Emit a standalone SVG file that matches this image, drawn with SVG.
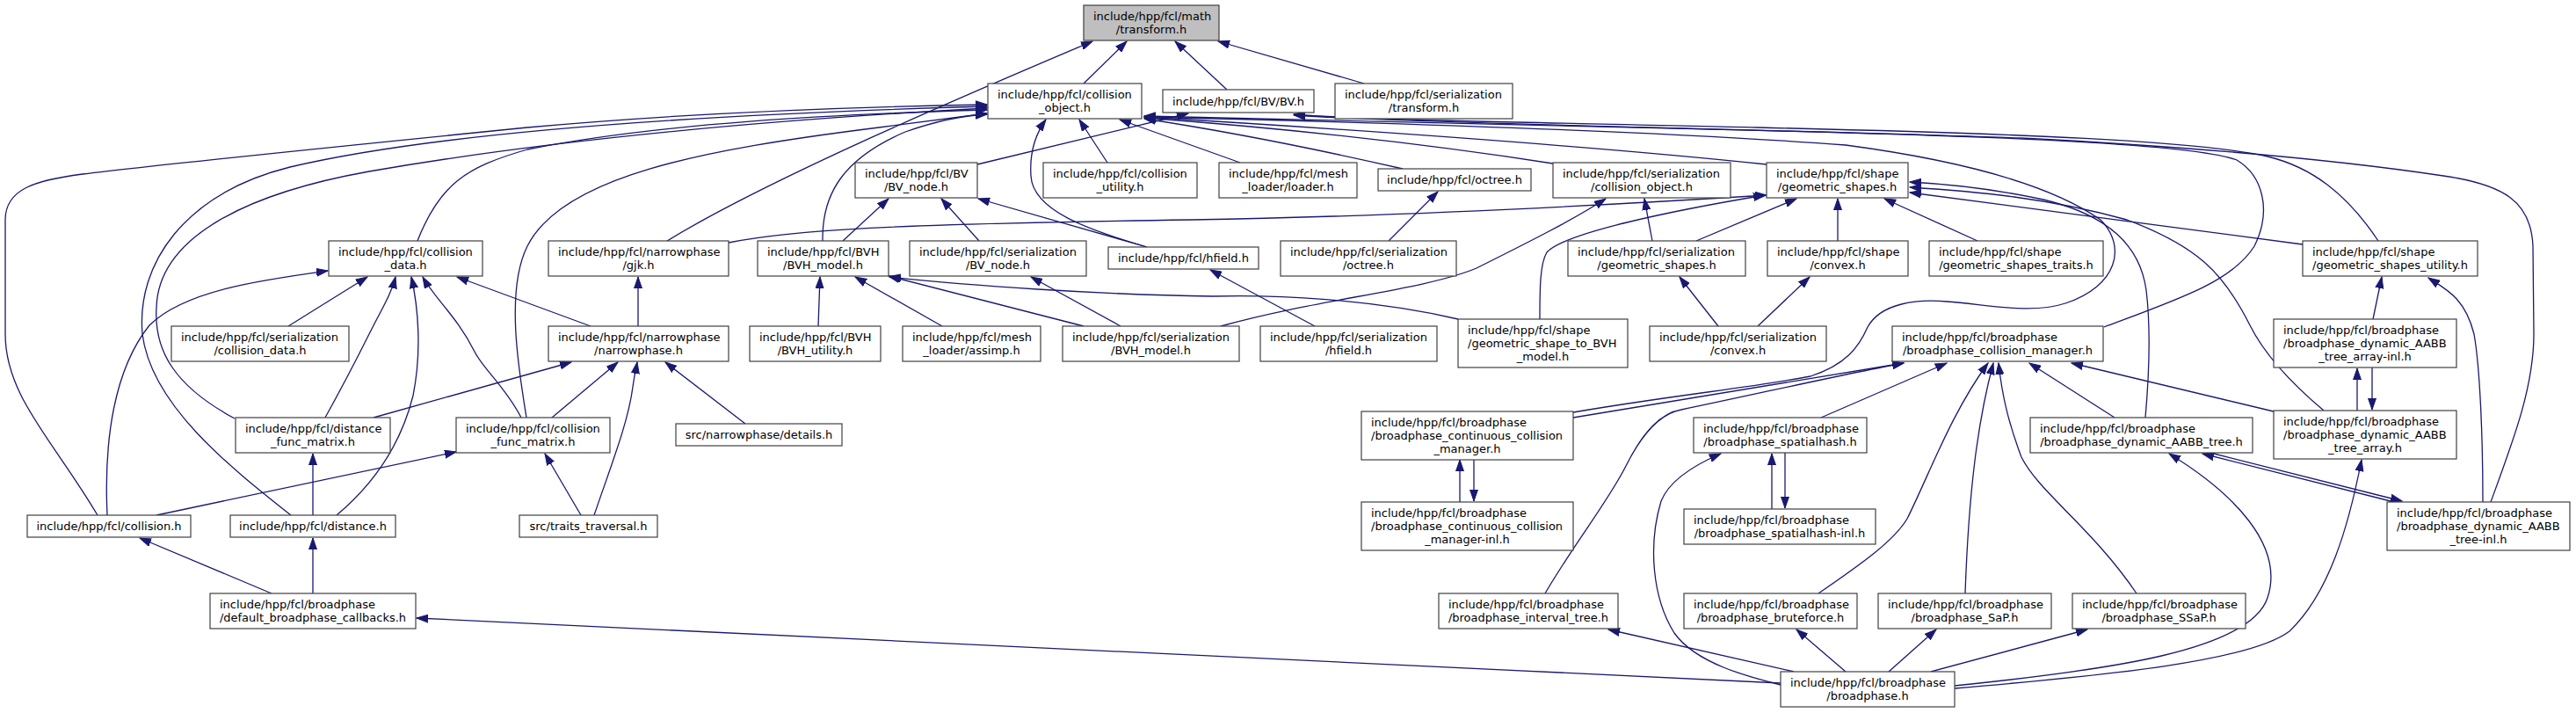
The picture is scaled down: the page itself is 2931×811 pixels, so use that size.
<svg xmlns="http://www.w3.org/2000/svg" width="2931" height="811" viewBox="0 0 2931 811">
<style>
.n rect{fill:#ffffff;stroke:#404040;stroke-width:1.2}
.n.root rect{fill:#bfbfbf}
text{font-family:"DejaVu Sans","Liberation Sans",sans-serif;font-size:13px;fill:#000}
.m{text-anchor:middle}
.e{fill:none;stroke:#191970;stroke-width:1.3;marker-end:url(#ah)}
</style>
<defs>
<marker id="ah" markerUnits="userSpaceOnUse" markerWidth="14" markerHeight="10" refX="13" refY="5" orient="auto">
<path d="M0,0.5 L13,5 L0,9.5 Z" fill="#191970" stroke="#191970" stroke-width="1"/>
</marker>
</defs>
<rect width="2931" height="811" fill="#ffffff"/>
<g id="connectors">
<path class="e" d="M1233,95 L1282,47"/>
<path class="e" d="M1396,102 L1337,47"/>
<path class="e" d="M1552,95 L1386,47"/>
<path class="e" d="M759,274 C880,200 1130,95 1243,47"/>
<path class="e" d="M111,586 C60,500 6,450 6,380 L6,250 C6,215 40,205 94,198 C200,185 400,165 600,145 C800,127 1000,121 1123,119"/>
<path class="e" d="M122,586 C118,500 130,420 170,370 C210,330 300,318 373,308"/>
<path class="e" d="M178,586 L519,514"/>
<path class="e" d="M331,586 C260,530 172,460 162,380 C155,300 210,220 330,190 C500,150 800,130 1123,121"/>
<path class="e" d="M267,476 C200,440 175,400 178,350 C180,270 280,220 420,195 C650,155 900,135 1123,123"/>
<path class="e" d="M475,274 C500,210 530,190 600,170 C750,140 950,130 1123,125"/>
<path class="e" d="M599,475 C590,420 575,330 600,280 C640,200 800,170 1000,145 C1060,137 1100,132 1123,129"/>
<path class="e" d="M936,274 C935,220 960,180 1030,150 C1070,136 1100,131 1123,130"/>
<path class="e" d="M829,276 C900,262 1000,255 1355,250 C1600,246 1850,232 2010,222"/>
<path class="e" d="M959,274 L1011,226"/>
<path class="e" d="M1114,274 L1071,226"/>
<path class="e" d="M1305,281 L1113,226"/>
<path class="e" d="M1305,281 C1240,262 1175,240 1173,200 C1171,170 1180,150 1190,136"/>
<path class="e" d="M1260,185 L1228,136"/>
<path class="e" d="M1411,185 L1274,136"/>
<path class="e" d="M1596,192 C1500,170 1400,150 1302,135"/>
<path class="e" d="M1767,186 C1600,160 1450,145 1302,134"/>
<path class="e" d="M2010,187 C1800,165 1500,145 1302,133"/>
<path class="e" d="M2394,372 C2480,340 2540,320 2565,280 C2585,240 2575,200 2545,182 C2500,165 2300,155 1950,147 C1700,141 1450,136 1302,132"/>
<path class="e" d="M1790,469 C1900,450 2000,440 2060,428 C2100,415 2115,395 2125,372 C2140,345 2180,340 2215,343 C2260,346 2310,358 2350,345 C2410,325 2420,280 2390,250 C2340,215 2250,185 2100,165 C1900,150 1600,140 1302,133"/>
<path class="e" d="M1790,475 L2166,413"/>
<path class="e" d="M1758,675 C1790,620 1830,570 1850,530 C1870,490 1890,470 1913,466 C2000,448 2100,425 2166,413"/>
<path class="e" d="M2072,475 L2215,413"/>
<path class="e" d="M2069,675 C2120,640 2155,615 2170,590 C2195,540 2220,470 2262,413"/>
<path class="e" d="M2236,675 C2240,560 2250,480 2268,413"/>
<path class="e" d="M2431,675 C2380,600 2320,560 2300,520 C2285,480 2278,450 2274,413"/>
<path class="e" d="M2406,475 L2309,413"/>
<path class="e" d="M2587,468 L2357,413"/>
<path class="e" d="M2644,467 C2600,430 2575,400 2560,370 C2530,310 2500,280 2420,250 C2330,225 2250,218 2173,213"/>
<path class="e" d="M2441,475 C2445,430 2448,380 2442,330 C2435,280 2400,245 2325,227 C2260,213 2210,209 2173,207"/>
<path class="e" d="M2620,278 L2173,219"/>
<path class="e" d="M2706,274 C2670,220 2630,190 2580,178 C2500,160 2300,152 2000,145 C1800,140 1550,137 1472,130"/>
<path class="e" d="M2834,571 C2860,500 2883,440 2883,380 L2882,280 C2880,230 2850,210 2780,200 C2700,188 2550,170 2300,157 C2000,147 1600,140 1472,131"/>
<path class="e" d="M2825,571 C2825,500 2822,420 2815,380 C2805,340 2785,330 2763,316"/>
<path class="e" d="M2700,363 L2710,315"/>
<path class="e" d="M2682,467 L2682,419"/>
<path class="e" d="M2699,418 L2699,466"/>
<path class="e" d="M2724,571 L2506,516"/>
<path class="e" d="M2515,515 L2733,570"/>
<path class="e" d="M2224,780 C2400,762 2560,740 2580,680 C2600,620 2540,560 2468,516"/>
<path class="e" d="M2224,783 C2400,768 2560,752 2605,718 C2650,675 2672,600 2687,523"/>
<path class="e" d="M2100,764 L2044,716"/>
<path class="e" d="M2149,764 L2203,716"/>
<path class="e" d="M2197,764 L2375,716"/>
<path class="e" d="M2041,764 L1830,716"/>
<path class="e" d="M2026,779 C1990,770 1930,755 1905,720 C1880,680 1875,620 1890,570 C1900,545 1930,528 1958,516"/>
<path class="e" d="M2016,579 L2016,516"/>
<path class="e" d="M2031,515 L2031,578"/>
<path class="e" d="M1661,571 L1661,523"/>
<path class="e" d="M1677,523 L1677,570"/>
<path class="e" d="M2026,777 L474,703"/>
<path class="e" d="M309,675 L159,612"/>
<path class="e" d="M356,675 L356,612"/>
<path class="e" d="M356,586 L356,516"/>
<path class="e" d="M383,586 C420,555 455,510 470,450 C480,400 476,350 468,315"/>
<path class="e" d="M370,475 C395,430 410,400 420,380 C435,350 445,335 450,315"/>
<path class="e" d="M593,475 C575,440 550,420 540,400 C520,360 495,340 481,315"/>
<path class="e" d="M328,371 L418,315"/>
<path class="e" d="M672,371 L520,315"/>
<path class="e" d="M726,371 L726,315"/>
<path class="e" d="M425,475 L650,412"/>
<path class="e" d="M628,475 L703,412"/>
<path class="e" d="M676,586 C695,530 715,480 720,440 C722,425 724,418 725,412"/>
<path class="e" d="M848,482 L757,412"/>
<path class="e" d="M661,586 L620,516"/>
<path class="e" d="M931,371 L933,315"/>
<path class="e" d="M1072,371 L973,315"/>
<path class="e" d="M1233,371 L1011,314"/>
<path class="e" d="M1659,363 C1560,340 1450,335 1380,337 C1250,335 1100,325 1012,315"/>
<path class="e" d="M1275,371 L1173,315"/>
<path class="e" d="M1389,371 C1500,340 1620,330 1680,305 C1740,275 1790,250 1827,226"/>
<path class="e" d="M1880,274 L1871,226"/>
<path class="e" d="M1496,371 L1377,307"/>
<path class="e" d="M1580,274 L1636,218"/>
<path class="e" d="M1930,274 L2044,226"/>
<path class="e" d="M1955,371 L1911,315"/>
<path class="e" d="M2000,371 L2059,315"/>
<path class="e" d="M2091,274 L2091,226"/>
<path class="e" d="M2250,274 L2144,226"/>
<path class="e" d="M1752,363 C1752,330 1752,300 1760,287 C1780,265 1900,240 2008,222"/>
<path class="e" d="M1112,187 L1352,129"/>
</g>
<g id="n_transform" class="n root"><rect x="1233" y="6" width="154" height="40"/><text x="1244" y="22.5">include/hpp/fcl/math</text><text class="m" x="1310" y="37.5">/transform.h</text></g>
<g id="n_collision_object" class="n"><rect x="1124" y="95" width="175" height="40"/><text x="1135" y="111.5">include/hpp/fcl/collision</text><text class="m" x="1211.5" y="126.5">_object.h</text></g>
<g id="n_bv" class="n"><rect x="1323" y="102" width="172" height="26"/><text class="m" x="1409" y="119.5">include/hpp/fcl/BV/BV.h</text></g>
<g id="n_ser_transform" class="n"><rect x="1519" y="95" width="202" height="40"/><text x="1530" y="111.5">include/hpp/fcl/serialization</text><text class="m" x="1620" y="126.5">/transform.h</text></g>
<g id="n_bv_node" class="n"><rect x="973" y="185" width="139" height="40"/><text x="984" y="201.5">include/hpp/fcl/BV</text><text class="m" x="1042.5" y="216.5">/BV_node.h</text></g>
<g id="n_collision_utility" class="n"><rect x="1187" y="185" width="175" height="40"/><text x="1198" y="201.5">include/hpp/fcl/collision</text><text class="m" x="1274.5" y="216.5">_utility.h</text></g>
<g id="n_loader" class="n"><rect x="1387" y="185" width="157" height="40"/><text x="1398" y="201.5">include/hpp/fcl/mesh</text><text class="m" x="1465.5" y="216.5">_loader/loader.h</text></g>
<g id="n_octree" class="n"><rect x="1568" y="192" width="174" height="25"/><text class="m" x="1655" y="209">include/hpp/fcl/octree.h</text></g>
<g id="n_ser_collision_object" class="n"><rect x="1767" y="185" width="202" height="40"/><text x="1778" y="201.5">include/hpp/fcl/serialization</text><text class="m" x="1868" y="216.5">/collision_object.h</text></g>
<g id="n_geometric_shapes" class="n"><rect x="2010" y="185" width="161" height="40"/><text x="2021" y="201.5">include/hpp/fcl/shape</text><text class="m" x="2090.5" y="216.5">/geometric_shapes.h</text></g>
<g id="n_collision_data" class="n"><rect x="374" y="274" width="175" height="40"/><text x="385" y="290.5">include/hpp/fcl/collision</text><text class="m" x="461.5" y="305.5">_data.h</text></g>
<g id="n_gjk" class="n"><rect x="624" y="274" width="205" height="40"/><text x="635" y="290.5">include/hpp/fcl/narrowphase</text><text class="m" x="726.5" y="305.5">/gjk.h</text></g>
<g id="n_bvh_model" class="n"><rect x="862" y="274" width="149" height="40"/><text x="873" y="290.5">include/hpp/fcl/BVH</text><text class="m" x="936.5" y="305.5">/BVH_model.h</text></g>
<g id="n_ser_bv_node" class="n"><rect x="1035" y="274" width="201" height="40"/><text x="1046" y="290.5">include/hpp/fcl/serialization</text><text class="m" x="1135.5" y="305.5">/BV_node.h</text></g>
<g id="n_hfield" class="n"><rect x="1261" y="281" width="171" height="25"/><text class="m" x="1346.5" y="298">include/hpp/fcl/hfield.h</text></g>
<g id="n_ser_octree" class="n"><rect x="1457" y="274" width="200" height="40"/><text x="1468" y="290.5">include/hpp/fcl/serialization</text><text class="m" x="1557" y="305.5">/octree.h</text></g>
<g id="n_ser_geometric_shapes" class="n"><rect x="1784" y="274" width="202" height="40"/><text x="1795" y="290.5">include/hpp/fcl/serialization</text><text class="m" x="1885" y="305.5">/geometric_shapes.h</text></g>
<g id="n_convex" class="n"><rect x="2011" y="274" width="160" height="40"/><text x="2022" y="290.5">include/hpp/fcl/shape</text><text class="m" x="2091" y="305.5">/convex.h</text></g>
<g id="n_traits" class="n"><rect x="2195" y="274" width="198" height="40"/><text x="2206" y="290.5">include/hpp/fcl/shape</text><text class="m" x="2294" y="305.5">/geometric_shapes_traits.h</text></g>
<g id="n_utility" class="n"><rect x="2620" y="274" width="199" height="40"/><text x="2631" y="290.5">include/hpp/fcl/shape</text><text class="m" x="2719.5" y="305.5">/geometric_shapes_utility.h</text></g>
<g id="n_ser_collision_data" class="n"><rect x="195" y="371" width="202" height="40"/><text x="206" y="387.5">include/hpp/fcl/serialization</text><text class="m" x="296" y="402.5">/collision_data.h</text></g>
<g id="n_narrowphase" class="n"><rect x="624" y="371" width="205" height="40"/><text x="635" y="387.5">include/hpp/fcl/narrowphase</text><text class="m" x="726.5" y="402.5">/narrowphase.h</text></g>
<g id="n_bvh_utility" class="n"><rect x="853" y="371" width="149" height="40"/><text x="864" y="387.5">include/hpp/fcl/BVH</text><text class="m" x="927.5" y="402.5">/BVH_utility.h</text></g>
<g id="n_assimp" class="n"><rect x="1027" y="371" width="157" height="40"/><text x="1038" y="387.5">include/hpp/fcl/mesh</text><text class="m" x="1105.5" y="402.5">_loader/assimp.h</text></g>
<g id="n_ser_bvh_model" class="n"><rect x="1209" y="371" width="201" height="40"/><text x="1220" y="387.5">include/hpp/fcl/serialization</text><text class="m" x="1309.5" y="402.5">/BVH_model.h</text></g>
<g id="n_ser_hfield" class="n"><rect x="1434" y="371" width="201" height="40"/><text x="1445" y="387.5">include/hpp/fcl/serialization</text><text class="m" x="1534.5" y="402.5">/hfield.h</text></g>
<g id="n_shape_to_bvh" class="n"><rect x="1659" y="363" width="193" height="55"/><text x="1670" y="379.5">include/hpp/fcl/shape</text><text x="1670" y="394.5">/geometric_shape_to_BVH</text><text class="m" x="1755.5" y="409.5">_model.h</text></g>
<g id="n_ser_convex" class="n"><rect x="1877" y="371" width="201" height="40"/><text x="1888" y="387.5">include/hpp/fcl/serialization</text><text class="m" x="1977.5" y="402.5">/convex.h</text></g>
<g id="n_bcm" class="n"><rect x="2153" y="371" width="240" height="40"/><text x="2164" y="387.5">include/hpp/fcl/broadphase</text><text class="m" x="2273" y="402.5">/broadphase_collision_manager.h</text></g>
<g id="n_array_inl" class="n"><rect x="2587" y="363" width="208" height="55"/><text x="2598" y="379.5">include/hpp/fcl/broadphase</text><text x="2598" y="394.5">/broadphase_dynamic_AABB</text><text class="m" x="2691" y="409.5">_tree_array-inl.h</text></g>
<g id="n_distance_func_matrix" class="n"><rect x="268" y="475" width="176" height="40"/><text x="279" y="491.5">include/hpp/fcl/distance</text><text class="m" x="356" y="506.5">_func_matrix.h</text></g>
<g id="n_collision_func_matrix" class="n"><rect x="519" y="475" width="175" height="40"/><text x="530" y="491.5">include/hpp/fcl/collision</text><text class="m" x="606.5" y="506.5">_func_matrix.h</text></g>
<g id="n_details" class="n"><rect x="769" y="482" width="189" height="25"/><text class="m" x="863.5" y="499">src/narrowphase/details.h</text></g>
<g id="n_continuous" class="n"><rect x="1549" y="468" width="241" height="55"/><text x="1560" y="484.5">include/hpp/fcl/broadphase</text><text x="1560" y="499.5">/broadphase_continuous_collision</text><text class="m" x="1669.5" y="514.5">_manager.h</text></g>
<g id="n_spatialhash" class="n"><rect x="1927" y="475" width="197" height="40"/><text x="1938" y="491.5">include/hpp/fcl/broadphase</text><text class="m" x="2025.5" y="506.5">/broadphase_spatialhash.h</text></g>
<g id="n_tree" class="n"><rect x="2310" y="475" width="253" height="40"/><text x="2321" y="491.5">include/hpp/fcl/broadphase</text><text class="m" x="2436.5" y="506.5">/broadphase_dynamic_AABB_tree.h</text></g>
<g id="n_array" class="n"><rect x="2587" y="467" width="208" height="55"/><text x="2598" y="483.5">include/hpp/fcl/broadphase</text><text x="2598" y="498.5">/broadphase_dynamic_AABB</text><text class="m" x="2691" y="513.5">_tree_array.h</text></g>
<g id="n_collision" class="n"><rect x="31" y="586" width="186" height="25"/><text class="m" x="124" y="603">include/hpp/fcl/collision.h</text></g>
<g id="n_distance" class="n"><rect x="262" y="586" width="188" height="25"/><text class="m" x="356" y="603">include/hpp/fcl/distance.h</text></g>
<g id="n_traits_traversal" class="n"><rect x="591" y="586" width="157" height="25"/><text class="m" x="669.5" y="603">src/traits_traversal.h</text></g>
<g id="n_continuous_inl" class="n"><rect x="1549" y="571" width="241" height="55"/><text x="1560" y="587.5">include/hpp/fcl/broadphase</text><text x="1560" y="602.5">/broadphase_continuous_collision</text><text class="m" x="1669.5" y="617.5">_manager-inl.h</text></g>
<g id="n_spatialhash_inl" class="n"><rect x="1916" y="579" width="218" height="40"/><text x="1927" y="595.5">include/hpp/fcl/broadphase</text><text class="m" x="2025" y="610.5">/broadphase_spatialhash-inl.h</text></g>
<g id="n_tree_inl" class="n"><rect x="2716" y="571" width="208" height="55"/><text x="2727" y="587.5">include/hpp/fcl/broadphase</text><text x="2727" y="602.5">/broadphase_dynamic_AABB</text><text class="m" x="2820" y="617.5">_tree-inl.h</text></g>
<g id="n_default_cb" class="n"><rect x="239" y="675" width="234" height="40"/><text x="250" y="691.5">include/hpp/fcl/broadphase</text><text class="m" x="356" y="706.5">/default_broadphase_callbacks.h</text></g>
<g id="n_interval" class="n"><rect x="1637" y="675" width="204" height="40"/><text x="1648" y="691.5">include/hpp/fcl/broadphase</text><text class="m" x="1739" y="706.5">/broadphase_interval_tree.h</text></g>
<g id="n_bruteforce" class="n"><rect x="1916" y="675" width="197" height="40"/><text x="1927" y="691.5">include/hpp/fcl/broadphase</text><text class="m" x="2014.5" y="706.5">/broadphase_bruteforce.h</text></g>
<g id="n_sap" class="n"><rect x="2137" y="675" width="197" height="40"/><text x="2148" y="691.5">include/hpp/fcl/broadphase</text><text class="m" x="2235.5" y="706.5">/broadphase_SaP.h</text></g>
<g id="n_ssap" class="n"><rect x="2358" y="675" width="197" height="40"/><text x="2369" y="691.5">include/hpp/fcl/broadphase</text><text class="m" x="2456.5" y="706.5">/broadphase_SSaP.h</text></g>
<g id="n_broadphase" class="n"><rect x="2026" y="764" width="198" height="40"/><text x="2037" y="780.5">include/hpp/fcl/broadphase</text><text class="m" x="2125" y="795.5">/broadphase.h</text></g>
</svg>
